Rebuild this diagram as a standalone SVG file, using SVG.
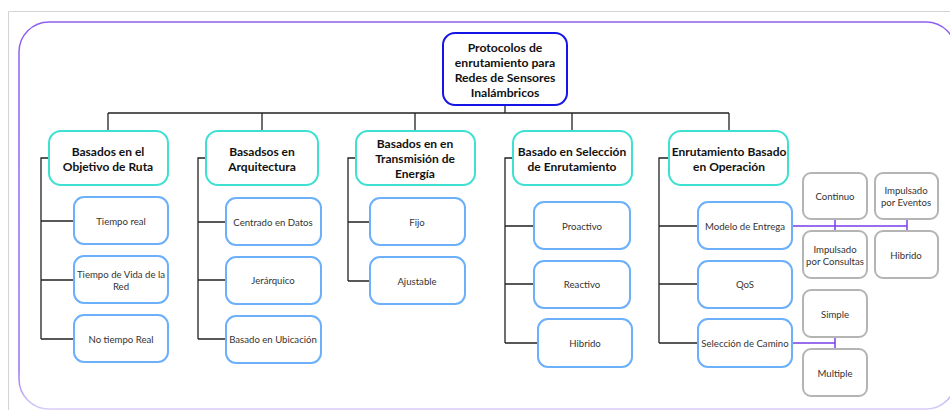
<svg xmlns="http://www.w3.org/2000/svg" width="950" height="410" viewBox="0 0 950 410">
<defs>
<linearGradient id="pg" x1="0" y1="0" x2="0" y2="1">
<stop offset="0" stop-color="#9060f0"/>
<stop offset="0.9" stop-color="#9a70f2"/>
<stop offset="1" stop-color="#d8cdf8"/>
</linearGradient>
</defs>
<style>
text{font-family:Lato,"Open Sans","Liberation Sans",sans-serif;text-anchor:middle;dominant-baseline:central}
.root rect{fill:#fff;stroke:#1515e6;stroke-width:2}
.root text{font-size:12.2px;font-weight:bold;fill:#111}
.cat rect{fill:#fff;stroke:#3ee0d2;stroke-width:2}
.cat text{font-size:12px;font-weight:bold;fill:#111}
.leaf rect{fill:#fff;stroke:#6cb0fb;stroke-width:2}
.leaf text{font-size:9.6px;fill:#333}
.sub rect{fill:#fff;stroke:#b4b4b4;stroke-width:2}
.sub text{font-size:9.6px;fill:#333}
.k{fill:none;stroke:#222;stroke-width:1.3}
.p{fill:none;stroke:#7a3ee6;stroke-width:1.5}
</style>
<rect x="0" y="0" width="950" height="410" fill="#fff"/>
<path d="M8.5 410 V11.5 H950" fill="none" stroke="#d4d4d4" stroke-width="1"/>
<rect x="19" y="22" width="937" height="387" rx="30" fill="none" stroke="url(#pg)" stroke-width="1.5"/>

<g id="connectors">
<path class="k" d="M505 105 V113 M108 113 H729 M108 113 V131 M262 113 V131 M415 113 V131 M572 113 V131 M729 113 V131"/>
<path class="k" d="M49 158 H41 V339 M41 221 H74 M41 280 H74 M41 339 H74"/>
<path class="k" d="M206 158 H198 V339 M198 222 H226 M198 280 H226 M198 339 H226"/>
<path class="k" d="M356 158 H348 V281 M348 222 H370 M348 281 H370"/>
<path class="k" d="M513 158 H505 V343 M505 226 H534 M505 284 H534 M505 343 H538"/>
<path class="k" d="M669 158 H659 V343 M659 226 H698 M659 284 H698 M659 343 H698"/>
<path class="p" d="M792 226 H907 M835 219 V231 M907 219 V231 M792 343 H835 M835 337 V349"/>
</g>

<g id="root" class="root">
<rect x="443" y="33" width="124" height="72" rx="12"/>
<text x="505" y="47">Protocolos de</text>
<text x="505" y="62">enrutamiento para</text>
<text x="505" y="77">Redes de Sensores</text>
<text x="505" y="92">Inalámbricos</text>
</g>

<g id="cat1" class="cat"><rect x="49" y="131" width="119" height="54" rx="12"/>
<text x="108" y="151">Basados en el</text><text x="108" y="166">Objetivo de Ruta</text></g>
<g id="cat2" class="cat"><rect x="206" y="131" width="112" height="54" rx="12"/>
<text x="262" y="151">Basadsos en</text><text x="262" y="166">Arquitectura</text></g>
<g id="cat3" class="cat"><rect x="356" y="131" width="119" height="54" rx="12"/>
<text x="415" y="143">Basados en en</text><text x="415" y="158">Transmisión de</text><text x="415" y="173">Energía</text></g>
<g id="cat4" class="cat"><rect x="513" y="131" width="119" height="54" rx="12"/>
<text x="572" y="151">Basado en Selección</text><text x="572" y="166">de Enrutamiento</text></g>
<g id="cat5" class="cat"><rect x="669" y="131" width="119" height="54" rx="12"/>
<text x="729" y="151">Enrutamiento Basado</text><text x="729" y="166">en Operación</text></g>

<g id="leaf1a" class="leaf"><rect x="74" y="197" width="94" height="47" rx="10"/><text x="121" y="221">Tiempo real</text></g>
<g id="leaf1b" class="leaf"><rect x="74" y="256" width="94" height="47" rx="10"/><text x="121" y="274">Tiempo de Vida de la</text><text x="121" y="286">Red</text></g>
<g id="leaf1c" class="leaf"><rect x="74" y="315" width="94" height="47" rx="10"/><text x="121" y="339">No tiempo Real</text></g>

<g id="leaf2a" class="leaf"><rect x="226" y="198" width="95" height="47" rx="10"/><text x="273" y="222">Centrado en Datos</text></g>
<g id="leaf2b" class="leaf"><rect x="226" y="257" width="95" height="47" rx="10"/><text x="273" y="280">Jerárquico</text></g>
<g id="leaf2c" class="leaf"><rect x="226" y="316" width="95" height="47" rx="10"/><text x="273" y="339">Basado en Ubicación</text></g>

<g id="leaf3a" class="leaf"><rect x="370" y="198" width="95" height="47" rx="10"/><text x="417" y="222">Fijo</text></g>
<g id="leaf3b" class="leaf"><rect x="370" y="257" width="95" height="47" rx="10"/><text x="417" y="281">Ajustable</text></g>

<g id="leaf4a" class="leaf"><rect x="534" y="202" width="96" height="47" rx="10"/><text x="582" y="226">Proactivo</text></g>
<g id="leaf4b" class="leaf"><rect x="534" y="261" width="96" height="47" rx="10"/><text x="582" y="284">Reactivo</text></g>
<g id="leaf4c" class="leaf"><rect x="538" y="319" width="94" height="48" rx="10"/><text x="585" y="343">Hibrido</text></g>

<g id="leaf5a" class="leaf"><rect x="698" y="202" width="94" height="47" rx="10"/><text x="745" y="226">Modelo de Entrega</text></g>
<g id="leaf5b" class="leaf"><rect x="698" y="261" width="94" height="47" rx="10"/><text x="745" y="284">QoS</text></g>
<g id="leaf5c" class="leaf"><rect x="698" y="319" width="94" height="48" rx="10"/><text x="745" y="343">Selección de Camino</text></g>

<g id="sub1" class="sub"><rect x="803" y="173" width="64" height="46" rx="8"/><text x="835" y="196">Continuo</text></g>
<g id="sub2" class="sub"><rect x="875" y="173" width="63" height="46" rx="8"/><text x="906" y="190">Impulsado</text><text x="906" y="202">por Eventos</text></g>
<g id="sub3" class="sub"><rect x="803" y="231" width="64" height="47" rx="8"/><text x="835" y="249">Impulsado</text><text x="835" y="261">por Consultas</text></g>
<g id="sub4" class="sub"><rect x="875" y="231" width="63" height="47" rx="8"/><text x="906" y="255">Hibrido</text></g>
<g id="sub5" class="sub"><rect x="803" y="290" width="64" height="47" rx="8"/><text x="835" y="314">Simple</text></g>
<g id="sub6" class="sub"><rect x="803" y="349" width="64" height="47" rx="8"/><text x="835" y="373">Multiple</text></g>
</svg>
